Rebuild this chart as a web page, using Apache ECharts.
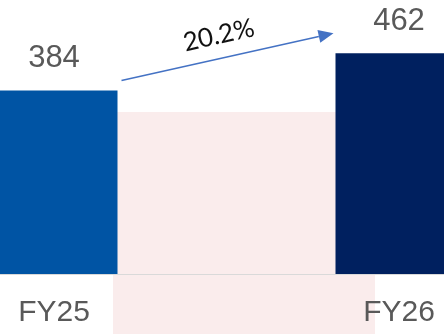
<!DOCTYPE html>
<html>
<head>
<meta charset="utf-8">
<script src="https://cdn.jsdelivr.net/npm/echarts@6/dist/echarts.min.js"></script>
<style>
  html, body { margin: 0; padding: 0; background: #ffffff; }
  #chart { width: 444px; height: 334px; }
</style>
</head>
<body>
<div id="chart"></div>
<script>
// Fiscal years and their totals
const categories = ['FY25', 'FY26'];
const values = [384, 462];
const barColors = ['#0054A4', '#00205F'];
const growthLabel = '20.2%';

const chart = echarts.init(document.getElementById('chart'), null, { renderer: 'canvas' });

const BAR_WIDTH = 127;

chart.setOption({
  animation: false,
  grid: { left: 54, right: 45, top: 35, bottom: 60, containLabel: false },
  xAxis: {
    type: 'category',
    data: categories,
    boundaryGap: false,
    axisLine: { show: true, lineStyle: { color: '#d9d9d9', width: 1 } },
    axisTick: { show: false },
    axisLabel: {
      color: '#595959',
      fontFamily: 'Liberation Sans',
      fontSize: 30,
      margin: 24
    }
  },
  yAxis: {
    type: 'value',
    min: 0,
    max: 500,
    show: false,
    splitLine: { show: false }
  },
  series: [{
    type: 'bar',
    barWidth: BAR_WIDTH,
    z: 2,
    data: values.map((v, i) => ({ value: v, itemStyle: { color: barColors[i] } })),
    label: {
      show: true,
      position: 'top',
      distance: 16,
      color: '#595959',
      fontFamily: 'Liberation Sans',
      fontSize: 31
    }
  }]
});

// Growth arrow from the top of FY25 toward the top of FY26
function drawAnnotations() {
  const p0 = chart.convertToPixel({ seriesIndex: 0 }, [0, values[0]]);
  const p1 = chart.convertToPixel({ seriesIndex: 0 }, [1, values[1]]);
  const x0 = p0[0] + BAR_WIDTH / 2 + 4;
  const y0 = p0[1] - 10;
  const x1 = p1[0] - BAR_WIDTH / 2 - 2;
  const y1 = p1[1] - 20;
  const ang = Math.atan2(y1 - y0, x1 - x0);
  const headLen = 15, headHalf = 6.5;
  const bx = x1 - headLen * Math.cos(ang), by = y1 - headLen * Math.sin(ang);
  const nx = -Math.sin(ang), ny = Math.cos(ang);
  const mx = (x0 + x1) / 2, my = (y0 + y1) / 2;

  chart.setOption({
    graphic: [
      {
        // soft highlight band behind the chart
        type: 'rect',
        z: -10,
        silent: true,
        shape: { x: 113, y: 112, width: 262, height: 222 },
        style: { fill: '#FAECEC' }
      },
      {
        // baseline across the full width
        type: 'line',
        z: -5,
        silent: true,
        shape: { x1: 0, y1: 274.5, x2: 444, y2: 274.5 },
        style: { stroke: '#d9d9d9', lineWidth: 1 }
      },
      {
        type: 'line',
        z: 10,
        silent: true,
        shape: { x1: x0, y1: y0, x2: bx, y2: by },
        style: { stroke: '#4472C4', lineWidth: 1.5 }
      },
      {
        type: 'polygon',
        z: 10,
        silent: true,
        shape: { points: [[x1, y1], [bx + nx * headHalf, by + ny * headHalf], [bx - nx * headHalf, by - ny * headHalf]] },
        style: { fill: '#4472C4' }
      },
      {
        type: 'text',
        z: 10,
        silent: true,
        x: mx - 4 * Math.cos(ang) + 22 * Math.sin(ang),
        y: my - 22 * Math.cos(ang),
        rotation: -ang,
        style: {
          text: growthLabel,
          fill: '#111111',
          font: '26px Lato',
          align: 'center',
          verticalAlign: 'middle'
        }
      }
    ]
  });
}
drawAnnotations();
</script>
</body>
</html>
